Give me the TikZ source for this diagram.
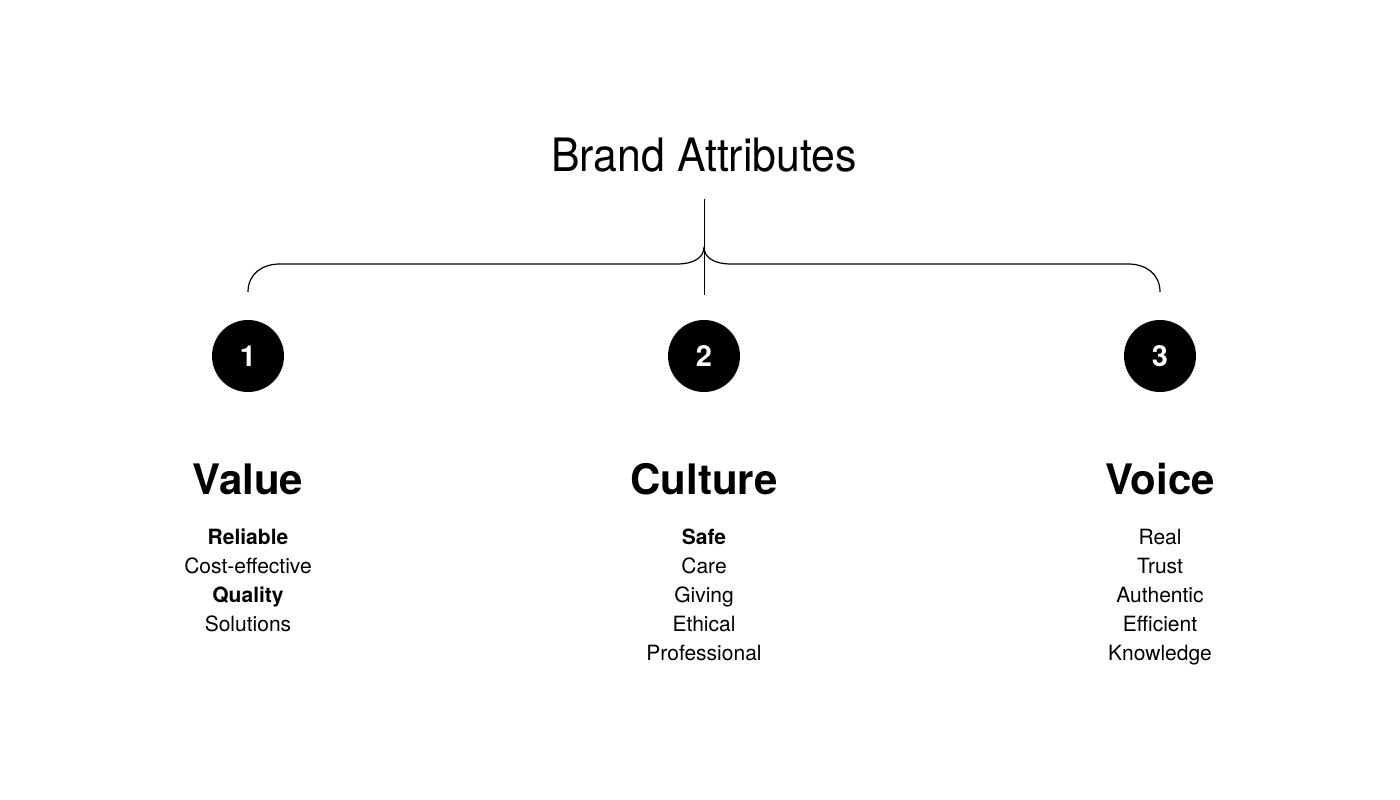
\documentclass[tikz,border=0pt]{standalone}
\usepackage{fontspec}
\setmainfont{TeX Gyre Heros}
\newfontfamily\titlefont[FakeStretch=0.93]{TeX Gyre Heros}
\begin{document}
\begin{tikzpicture}[x=1pt,y=-1pt,join=round,
    numdot/.style={circle,fill=black,minimum size=72pt,inner sep=0pt,text=white,
      font=\fontsize{29}{29}\selectfont\bfseries},
    head/.style={anchor=base,font=\fontsize{42}{42}\selectfont\bfseries},
    item/.style={anchor=base,font=\fontsize{21}{21}\selectfont}] % Brand Attributes
  \useasboundingbox (0,0) rectangle (1400,800);
  \node[anchor=base,font=\titlefont\fontsize{46}{46}\selectfont] (title) at (704,171) {Brand Attributes};
  \coordinate (stemtop) at (704,199);
  \coordinate (stembot) at (704,295);
  \draw[line width=1pt] (stemtop) -- (stembot);
  \draw[line width=1.2pt] (248,292) .. controls (248,274) and (262,264) .. (280,264) -- (677,264)
       .. controls (693,264) and (704,258) .. (704,247)
       .. controls (704,258) and (715,264) .. (731,264) -- (1128,264)
       .. controls (1146,264) and (1160,274) .. (1160,292);
  \node[numdot] (one) at (248,356) {1};
  \node[numdot] (two) at (704,356) {2};
  \node[numdot] (three) at (1160,356) {3};
  \node[head] (value) at (248,494) {Value};
  \node[head] (culture) at (704,494) {Culture};
  \node[head] (voice) at (1160,494) {Voice};
  \foreach \w [count=\i] in {\textbf{Reliable},Cost-effective,\textbf{Quality},Solutions}
    \node[item] (val\i) at (248,515+29*\i) {\w};
  \foreach \w [count=\i] in {\textbf{Safe},Care,Giving,Ethical,Professional}
    \node[item] (cul\i) at (704,515+29*\i) {\w};
  \foreach \w [count=\i] in {Real,Trust,Authentic,Efficient,Knowledge}
    \node[item] (voi\i) at (1160,515+29*\i) {\w};
\end{tikzpicture}
\end{document}
